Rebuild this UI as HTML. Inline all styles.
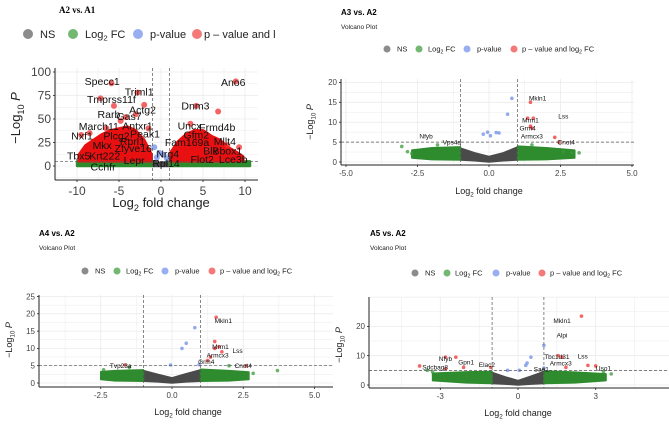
<!DOCTYPE html>
<html><head><meta charset="utf-8">
<style>
html,body{margin:0;padding:0;background:#fff;}
svg{display:block;font-family:"Liberation Sans",sans-serif;}
</style></head>
<body>
<svg id="fig" width="669" height="426" viewBox="0 0 669 426" xmlns="http://www.w3.org/2000/svg"></svg>
<script>
// ---------- Panel 1: A2 vs A1 ----------
const p1XTicks=[-10,-5,0,5,10];
const p1YTicks=[0,25,50,75,100];
const p1GrayX=[-1,-0.5,0,0.5,1], p1GrayTop=[5,4,3,4,5], p1GrayBot=[0,0,0,0,0];
const p1GreenLX=[-10,-1], p1GreenLTop=[5,5], p1GreenLBot=[0,0];
const p1GreenRX=[1,10.6], p1GreenRTop=[5,5], p1GreenRBot=[0,0];
const p1RedLX=[-9.8,-9,-8,-7,-6,-5,-4,-3,-2,-1.1], p1RedLTop=[12,22,28,34,38,40,42,38,28,12];
const p1RedRX=[1.1,2,3,4,5,6,7,8,9,9.8], p1RedRTop=[14,26,34,38,38,32,28,20,15,10];
const p1RedFC=[-5.9,-2.8,-7.2,-2.0,-4.2,-3.0,-5.6,-8.5,-6.5,-9.5,8.9,6.8,4.2,3.5,-4.8,-1.5,7.9,9.3,5.5];
const p1RedP=[88,78,72,65,52,55,64,35,40,33,90,58,64,45,48,40,22,20,18];
const p1BlueFC=[-0.5,-0.2,0.3,0.7,-0.8], p1BlueP=[9,14,12,8,20];
const p1LabName=["Specc1","Triml1","Tmprss11f","Actg2","Gas7","Rarb","Antxr1","March11","Peak1","Nxf1","Plcg2","Rprl1","Mkx","Zfyve16","Tbx5","Krt222","Lepr","Cchfr","Ano6","Dnm3","Uncx","Frmd4b","Gfm2","Fam169a","Mllt4","Nrg4","Blk","Bbox1","Flot2","Lce3b","Rpl14"];
const p1LabFC=[-7.0,-2.6,-5.9,-2.2,-3.8,-6.2,-2.8,-7.4,-1.9,-9.4,-5.3,-3.4,-7.0,-3.3,-9.8,-6.7,-3.2,-6.9,8.6,4.1,3.4,6.7,4.2,3.1,7.6,0.8,5.9,7.9,4.9,8.6,0.6];
const p1LabP=[90,79,71,60,53,55,43,42,34,32,32,26,22,19,11,11,6,-1,89,64,43,41,33,25,26,13,16,16,7,7,3];

// ---------- Panel 2: A3 vs A2 ----------
const p2XTicks=[-5,-2.5,0,2.5,5];
const p2XTickLab=["-5.0","-2.5","0.0","2.5","5.0"];
const p2YTicks=[0,5,10,15,20];
const p2GrayX=[-1,-0.5,0,0.5,1], p2GrayTop=[3.5,2.3,1.4,2.3,3.8], p2GrayBot=[0.5,0.3,0,0.3,0.5];
const p2GreenLX=[-2.7,-2,-1], p2GreenLTop=[3.0,3.6,3.8], p2GreenLBot=[1.0,0.6,0.5];
const p2GreenRX=[1,2,3.0], p2GreenRTop=[4.0,3.6,3.0], p2GreenRBot=[0.5,0.6,1.0];
const p2GreenFC=[-3.05,-2.85,-2.7,3.15,2.9,2.6,-1.8,1.5], p2GreenP=[3.9,2.6,2.1,2.3,2.3,2.6,4.3,4.3];
const p2BlueFC=[0.8,0.65,-0.2,-0.05,0.05,0.25,0.35], p2BlueP=[16,12,7,7.5,6.6,7.4,7.3];
const p2RedFC=[1.45,1.35,1.55,1.45,1.5,2.3,2.45], p2RedP=[15,11,11,9,8.5,6.2,5];
const p2LabName=["Mkln1","Lss","Mrm1","Grm4","Armcx3","Cnot4","Nfyb","Vps4a"];
const p2LabFC=[1.7,2.6,1.45,1.35,1.5,2.7,-2.2,-1.3];
const p2LabP=[16,11.5,10.5,8.5,6.5,5,6.5,5];

// ---------- Panel 3: A4 vs A2 ----------
const p3XTicks=[-2.5,0,2.5,5];
const p3XTickLab=["-2.5","0.0","2.5","5.0"];
const p3YTicks=[0,5,10,15,20,25];
const p3GrayX=[-1,-0.5,0,0.5,1], p3GrayTop=[3.6,2.5,1.5,2.7,3.8], p3GrayBot=[0.5,0.3,0,0.3,0.5];
const p3GreenLX=[-2.5,-2,-1], p3GreenLTop=[3.3,3.6,3.8], p3GreenLBot=[1.0,0.6,0.5];
const p3GreenRX=[1,2,2.7], p3GreenRTop=[4.0,3.6,3.2], p3GreenRBot=[0.5,0.6,1.0];
const p3GreenFC=[3.7,2.85,-2.4,2.0,-1.5], p3GreenP=[3.6,2.8,3.8,5,4.5];
const p3BlueFC=[0.8,0.5,0.35,-0.05,0.95], p3BlueP=[16,11.5,10,5.2,5.3];
const p3RedFC=[1.55,1.5,1.65,1.5,1.75,1.35,1.25,2.6,-1.65], p3RedP=[19,12,10.5,10,9,7.5,6.5,5,5.2];
const p3LabName=["Mkln1","Mrm1","Lss","Armcx3","Grm4","Cnot4","Tvp23a"];
const p3LabFC=[1.8,1.7,2.3,1.6,1.2,2.5,-1.8];
const p3LabP=[18,10.5,9.3,8,6.2,5,5];

// ---------- Panel 4: A5 vs A2 ----------
const p4XTicks=[-3,0,3];
const p4XTickLab=["-3","0","3"];
const p4YTicks=[0,10,20];
const p4GrayX=[-1,-0.5,0,0.5,1], p4GrayTop=[4.3,2.8,1.5,3.0,4.6], p4GrayBot=[0.5,0.3,0,0.3,0.5];
const p4GreenLX=[-3.3,-2,-1], p4GreenLTop=[4.0,4.5,4.6], p4GreenLBot=[1.5,0.7,0.5];
const p4GreenRX=[1,2.2,3.4], p4GreenRTop=[4.8,4.4,3.8], p4GreenRBot=[0.5,0.7,1.5];
const p4GreenFC=[3.6,-3.5,-3.3,3.3], p4GreenP=[3.8,5,4.5,4.5];
const p4BlueFC=[1.0,0.5,0.35,0.3,-0.4,0.05,1.0], p4BlueP=[13.5,9.5,7.5,6.7,5,5,5.8];
const p4RedFC=[2.45,1.55,1.7,1.85,2.7,3.0,-3.8,-2.8,-2.4,-2.1,-2.8,-1.05], p4RedP=[23.5,10,9.5,6,6.7,6.5,6.5,9.5,9.5,6,5.5,6];
const p4LabName=["Mkln1","Alpi","Tbc1d31","Lss","Armcx3","Sae1","Uso1","Nfyb","Gpn1","Elac2","Sdcbag8"];
const p4LabFC=[1.7,1.7,1.5,2.5,1.65,0.9,3.3,-2.8,-2.0,-1.2,-3.2];
const p4LabP=[22,17,9.7,9.8,7.5,5.3,5.8,9,7.7,7,6];

const NS='http://www.w3.org/2000/svg';
const svg=document.getElementById('fig');
function mk(tag,attrs,parent,txt){
  const e=document.createElementNS(NS,tag);
  for(const k in attrs) e.setAttribute(k,attrs[k]);
  if(txt!==undefined) e.textContent=txt;
  (parent||svg).appendChild(e);
  return e;
}

function panel(c){
  const g=mk('g',{});
  
  
  const X=v=>c.ox+v*c.kx, Y=v=>c.oy-v*c.ky;
  const t=mk('text',{x:c.tx,y:c.ty,'font-size':c.tfs,'font-weight':'bold','font-family':c.serif?'"Liberation Serif",serif':'"Liberation Sans",sans-serif',fill:'#000'},g,c.title);
  
  
  if(c.sub){
    const s=mk('text',{x:c.tx,y:c.ty+14,'font-size':6.5,fill:'#222'},g,'Volcano Plot');
    
    
  }
  const lg=mk('g',{},g);
  
  
  const lcol=['#8c8c8c','#72b872','#98aef0','#f47a7a'];
  const lname=['legend-ns','legend-log2fc','legend-pvalue','legend-both'];
  for(let i=0;i<4;i++){
    const e=mk('g',{},lg);
    
    
    mk('circle',{cx:c.lc[i],cy:c.ly,r:c.lr,fill:lcol[i]},e);
    const tx=mk('text',{x:c.lt[i],y:c.ly+c.lfs*0.35,'font-size':c.lfs,fill:'#222'},e);
    if(i===0) tx.textContent='NS';
    else if(i===1){tx.appendChild(document.createTextNode('Log'));mk('tspan',{'font-size':c.lfs*0.7,dy:c.lfs*0.25},tx,'2');mk('tspan',{dy:-c.lfs*0.25},tx,' FC');}
    else if(i===2) tx.textContent='p-value';
    else { if(c.short){tx.textContent='p \u2013 value and l';} else {tx.appendChild(document.createTextNode('p \u2013 value and log'));mk('tspan',{'font-size':c.lfs*0.7,dy:c.lfs*0.25},tx,'2');mk('tspan',{dy:-c.lfs*0.25},tx,' FC');}}
  }
  const gg=mk('g',{},g);
  
  
  const xs=c.xt, ys=c.yt;
  const dx=xs[1]-xs[0], dy=ys[1]-ys[0];
  for(let v=xs[0]-dx*2;v<=xs[xs.length-1]+dx*2;v+=dx/2){
    const px=X(v); if(px<c.left||px>c.right) continue;
    mk('line',{x1:px,x2:px,y1:c.top,y2:c.bottom,stroke:'#ebebeb','stroke-width':(Math.abs((v-xs[0])/dx-Math.round((v-xs[0])/dx))<1e-6)?0.8:0.5},gg);
  }
  for(let v=ys[0]-dy;v<=ys[ys.length-1]+dy*2;v+=dy/2){
    const py=Y(v); if(py<c.top||py>c.bottom) continue;
    mk('line',{x1:c.left,x2:c.right,y1:py,y2:py,stroke:'#ebebeb','stroke-width':(Math.abs((v-ys[0])/dy-Math.round((v-ys[0])/dy))<1e-6)?0.8:0.5},gg);
  }
  function region(xa,top,bot,col,nm){
    let pts=xa.map((x,i)=>X(x)+','+Y(top[i]));
    for(let i=xa.length-1;i>=0;i--) pts.push(X(xa[i])+','+Y(bot?bot[i]:5));
    const p=mk('polygon',{points:pts.join(' '),fill:col,stroke:col,'stroke-width':c.pr*0.8,'stroke-linejoin':'round'},g);
    
    
  }
  region(c.d.grayX,c.d.grayTop,c.d.grayBot,'#4a4a4a','ns-cloud');
  region(c.d.gLX,c.d.gLTop,c.d.gLBot,'#2e8b2e','log2fc-cloud-left');
  region(c.d.gRX,c.d.gRTop,c.d.gRBot,'#2e8b2e','log2fc-cloud-right');
  if(c.d.rLX){ region(c.d.rLX,c.d.rLTop,null,'#e81010','sig-cloud-left'); region(c.d.rRX,c.d.rRTop,null,'#e81010','sig-cloud-right'); }
  function pts(fc,p,col,nm){
    if(!fc) return;
    for(let i=0;i<fc.length;i++){
      const e=mk('circle',{cx:X(fc[i]),cy:Y(p[i]),r:c.pr,fill:col,'fill-opacity':0.75},g);
      
      
    }
  }
  pts(c.d.gFC,c.d.gP,'#3a9a3a','log2fc-point');
  pts(c.d.bFC,c.d.bP,'#6f8ee8','pvalue-point');
  pts(c.d.rFC,c.d.rP,'#f03030','significant-point');
  [-1,1].forEach(v=>{
    const l=mk('line',{x1:X(v),x2:X(v),y1:c.top,y2:c.bottom,stroke:'#555','stroke-width':0.7,'stroke-dasharray':'3,2'},g);
    
    
  });
  const hl=mk('line',{x1:c.left,x2:c.right,y1:Y(c.pcut),y2:Y(c.pcut),stroke:'#555','stroke-width':0.7,'stroke-dasharray':'3,2'},g);
  
  
  for(let i=0;i<c.d.ln.length;i++){
    const e=mk('text',{x:X(c.d.lf[i]),y:Y(c.d.lp[i])+c.labfs*0.35,'font-size':c.labfs,'text-anchor':'middle',fill:'#111'},g,c.d.ln[i]);
    
    
  }
  const ax=mk('line',{x1:c.left,x2:c.right,y1:c.bottom,y2:c.bottom,stroke:'#222','stroke-width':1},g);
  
  
  const ay=mk('line',{x1:c.left,x2:c.left,y1:c.top,y2:c.bottom,stroke:'#222','stroke-width':1},g);
  
  
  xs.forEach((v,i)=>{
    mk('line',{x1:X(v),x2:X(v),y1:c.bottom,y2:c.bottom+2,stroke:'#222','stroke-width':0.8},g);
    const e=mk('text',{x:X(v),y:c.bottom+3+c.tfsz,'font-size':c.tfsz,'text-anchor':'middle',fill:'#444'},g,c.xl?c.xl[i]:String(v));
    
    
  });
  ys.forEach(v=>{
    mk('line',{x1:c.left-2,x2:c.left,y1:Y(v),y2:Y(v),stroke:'#222','stroke-width':0.8},g);
    const e=mk('text',{x:c.left-4,y:Y(v)+c.tfsz*0.35,'font-size':c.tfsz,'text-anchor':'end',fill:'#444'},g,String(v));
    
    
  });
  const xt=mk('text',{x:c.xtx,y:c.xty,'font-size':c.afs,'text-anchor':'middle',fill:'#222'},g);
  
  
  xt.appendChild(document.createTextNode('Log'));
  mk('tspan',{'font-size':c.afs*0.7,dy:c.afs*0.3},xt,'2');
  mk('tspan',{dy:-c.afs*0.3},xt,' fold change');
  const yt=mk('text',{x:0,y:0,'font-size':c.afs,'text-anchor':'middle',fill:'#222',transform:`translate(${c.ytx},${c.yty}) rotate(-90)`},g);
  
  
  yt.appendChild(document.createTextNode('\u2212Log'));
  mk('tspan',{'font-size':c.afs*0.7,dy:c.afs*0.3},yt,'10');
  mk('tspan',{dy:-c.afs*0.3,'font-style':'italic'},yt,' P');
}

panel({name:'panel-a2-vs-a1',title:'A2 vs. A1',serif:true,tx:59,ty:13,tfs:9,sub:false,short:true,
  lc:[28,73,138,197],lt:[40,85,150,204],ly:34,lr:5,lfs:11,
  ox:161,kx:8.4,oy:166,ky:0.94,left:55,right:258,top:68,bottom:180,pcut:5,
  xt:p1XTicks,yt:p1YTicks,tfsz:12,afs:13,labfs:10.5,pr:3,
  xtx:161,xty:207,ytx:20,yty:118,
  d:{grayX:p1GrayX,grayTop:p1GrayTop,grayBot:p1GrayBot,gLX:p1GreenLX,gLTop:p1GreenLTop,gLBot:p1GreenLBot,gRX:p1GreenRX,gRTop:p1GreenRTop,gRBot:p1GreenRBot,
     rLX:p1RedLX,rLTop:p1RedLTop,rRX:p1RedRX,rRTop:p1RedRTop,rFC:p1RedFC,rP:p1RedP,bFC:p1BlueFC,bP:p1BlueP,
     ln:p1LabName,lf:p1LabFC,lp:p1LabP}});

panel({name:'panel-a3-vs-a2',title:'A3 vs. A2',tx:341,ty:15,tfs:8,sub:true,
  lc:[387,419,467,514],lt:[397,428,477,522],ly:49,lr:3.5,lfs:7.5,
  ox:489,kx:28.6,oy:162,ky:3.98,left:341,right:634,top:79,bottom:165,pcut:5,
  xt:p2XTicks,xl:p2XTickLab,yt:p2YTicks,tfsz:8,afs:9,labfs:6.5,pr:1.8,
  xtx:489,xty:194,ytx:313,yty:122,
  d:{grayX:p2GrayX,grayTop:p2GrayTop,grayBot:p2GrayBot,gLX:p2GreenLX,gLTop:p2GreenLTop,gLBot:p2GreenLBot,gRX:p2GreenRX,gRTop:p2GreenRTop,gRBot:p2GreenRBot,
     gFC:p2GreenFC,gP:p2GreenP,bFC:p2BlueFC,bP:p2BlueP,rFC:p2RedFC,rP:p2RedP,ln:p2LabName,lf:p2LabFC,lp:p2LabP}});

panel({name:'panel-a4-vs-a2',title:'A4 vs. A2',tx:39,ty:236,tfs:8,sub:true,
  lc:[85,117,165,212],lt:[95,126,175,220],ly:271,lr:3.5,lfs:7.5,
  ox:172,kx:28.5,oy:383,ky:3.46,left:39,right:333,top:295,bottom:387,pcut:5,
  xt:p3XTicks,xl:p3XTickLab,yt:p3YTicks,tfsz:8,afs:9,labfs:6.5,pr:1.8,
  xtx:188,xty:415,ytx:12,yty:340,
  d:{grayX:p3GrayX,grayTop:p3GrayTop,grayBot:p3GrayBot,gLX:p3GreenLX,gLTop:p3GreenLTop,gLBot:p3GreenLBot,gRX:p3GreenRX,gRTop:p3GreenRTop,gRBot:p3GreenRBot,
     gFC:p3GreenFC,gP:p3GreenP,bFC:p3BlueFC,bP:p3BlueP,rFC:p3RedFC,rP:p3RedP,ln:p3LabName,lf:p3LabFC,lp:p3LabP}});

panel({name:'panel-a5-vs-a2',title:'A5 vs. A2',tx:370,ty:236,tfs:8,sub:true,
  lc:[415,447,496,542],lt:[425,455,506,550],ly:273,lr:3.5,lfs:7.5,
  ox:518,kx:25.9,oy:385,ky:2.93,left:369,right:669,top:297,bottom:388,pcut:5,
  xt:p4XTicks,xl:p4XTickLab,yt:p4YTicks,tfsz:8,afs:9,labfs:6.5,pr:1.8,
  xtx:518,xty:416,ytx:342,yty:345,
  d:{grayX:p4GrayX,grayTop:p4GrayTop,grayBot:p4GrayBot,gLX:p4GreenLX,gLTop:p4GreenLTop,gLBot:p4GreenLBot,gRX:p4GreenRX,gRTop:p4GreenRTop,gRBot:p4GreenRBot,
     gFC:p4GreenFC,gP:p4GreenP,bFC:p4BlueFC,bP:p4BlueP,rFC:p4RedFC,rP:p4RedP,ln:p4LabName,lf:p4LabFC,lp:p4LabP}});
</script>
</body></html>
